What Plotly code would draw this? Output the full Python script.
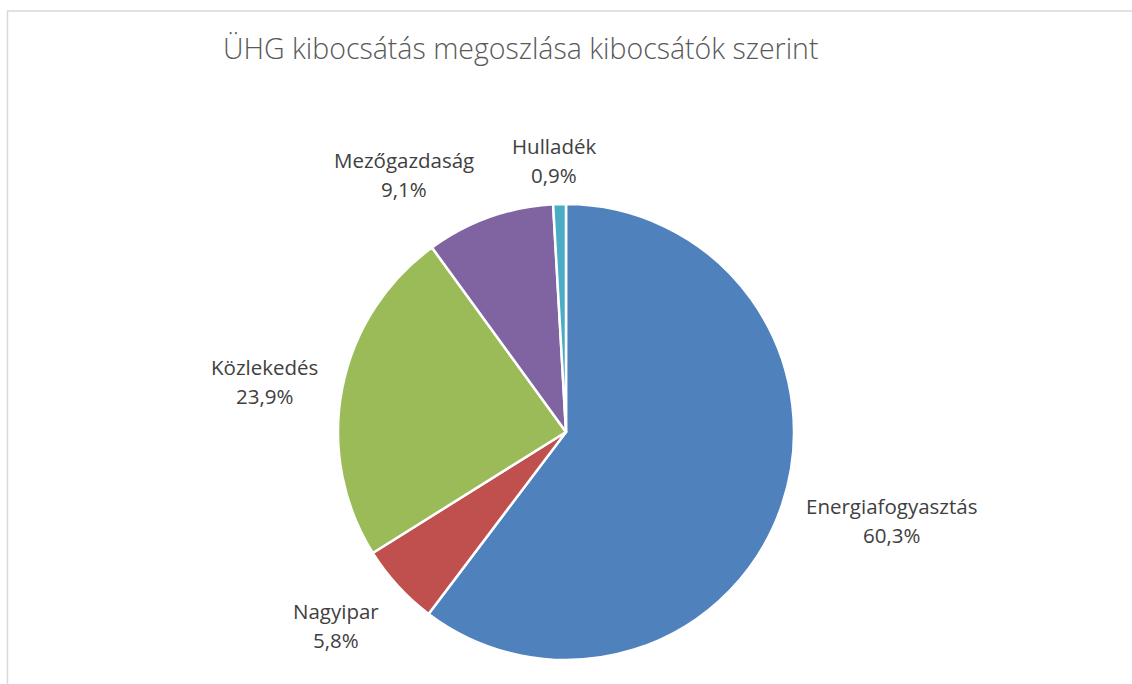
import math
import plotly.graph_objects as go

categories = ["Energiafogyasztás", "Nagyipar", "Közlekedés", "Mezőgazdaság", "Hulladék"]
values = [60.3, 5.8, 23.9, 9.1, 0.9]
colors = ["#4F81BD", "#C0504D", "#9BBB59", "#8064A2", "#4BACC6"]
title_text = "ÜHG kibocsátás megoszlása kibocsátók szerint"

# layout (pixels)
W, H = 1132, 684
CX, CY, R = 566, 432, 228
label_dist = [1.481, 1.32, 1.343, 1.336, 1.19]   # label distance / radius
label_rot = [-3.4, 2.4, -1.4, -12.5, -1.0]        # angular nudge, degrees
LINE_GAP = 29                                     # px between the two label lines

FONT = "'Open Sans', Lato, 'DejaVu Sans', sans-serif"

fig = go.Figure(go.Pie(
    labels=categories,
    values=values,
    marker=dict(colors=colors, line=dict(color="white", width=2.5)),
    sort=False,
    direction="clockwise",
    rotation=0,
    textinfo="none",
    hoverinfo="label+percent",
    showlegend=False,
    domain=dict(x=[(CX - R) / W, (CX + R) / W],
                y=[1 - (CY + R) / H, 1 - (CY - R) / H]),
))

total = sum(values)
annotations = []
cum = 0.0
for i, (lab, v) in enumerate(zip(categories, values)):
    mid = (cum + v / 2) / total * 360 + label_rot[i]
    cum += v
    d = label_dist[i] * R
    px = CX + d * math.sin(math.radians(mid))
    py = CY - d * math.cos(math.radians(mid))
    pct = f"{v / total * 100:.1f}".replace(".", ",") + "%"
    for txt, dy in ((lab, -LINE_GAP / 2), (pct, LINE_GAP / 2)):
        annotations.append(dict(
            x=px / W, y=1 - (py + dy) / H, xref="paper", yref="paper",
            text=txt, showarrow=False,
            xanchor="center", yanchor="middle", align="center",
            font=dict(family=FONT, size=20.5, color="#404040"),
        ))

annotations.append(dict(
    x=520 / W, y=1 - 48 / H, xref="paper", yref="paper",
    text=title_text, showarrow=False, xanchor="center", yanchor="middle",
    font=dict(family=FONT, size=28.5, color="#595959", weight=300),
))

fig.update_layout(
    width=W, height=H,
    margin=dict(l=0, r=0, t=0, b=0),
    paper_bgcolor="white", plot_bgcolor="white",
    annotations=annotations,
    shapes=[dict(type="rect", xref="paper", yref="paper",
                 x0=7.5 / W, x1=1.2, y0=-0.2, y1=1 - 11 / H,
                 line=dict(color="#D9D9D9", width=1.5), layer="below")],
)

fig.write_html("out.html", config={"displayModeBar": False},
               post_script="document.body.style.margin='0';")
